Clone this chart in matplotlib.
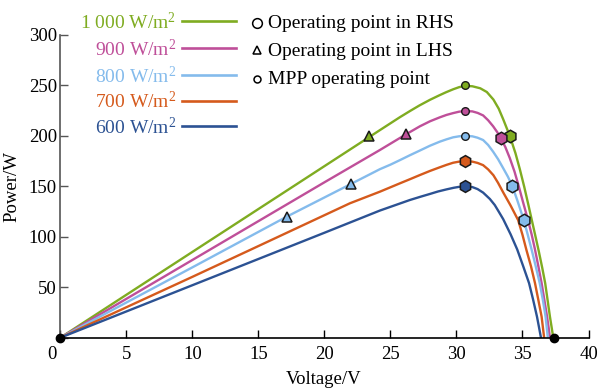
import matplotlib
matplotlib.use("Agg")
import matplotlib.pyplot as plt
from matplotlib.lines import Line2D
import matplotlib.transforms as mtransforms

plt.rcParams['font.family'] = ['Liberation Serif', 'DejaVu Serif']
plt.rcParams['mathtext.fontset'] = 'custom'
plt.rcParams['mathtext.rm'] = 'Liberation Serif'
plt.rcParams['mathtext.it'] = 'Liberation Serif:italic'

# P-V curves, one pair of lists per irradiance
labels = ['1 000 W/m$^2$', '900 W/m$^2$', '800 W/m$^2$', '700 W/m$^2$', '600 W/m$^2$']
colors = ['#7fac21', '#bf4f99', '#84bbec', '#d55a1c', '#2c5293']

v_1000 = [0, 10, 20, 24.2, 25.7, 26.5, 27.2, 28.0, 28.7, 29.2, 29.75, 30.2, 30.6, 31.2, 31.8,
          32.3, 32.8, 33.2, 33.54, 34.04, 34.47, 34.8, 35.13, 35.45, 35.75, 36.0, 36.23, 36.5,
          36.72, 36.9, 37.08, 37.2, 37.33]
p_1000 = [0, 85, 170, 205.7, 218.4, 224.8, 230.2, 235.8, 240.2, 243.2, 246.2, 248.3, 249.5, 249.2, 247.2,
          243.5, 236, 227, 216.5, 200, 182.8, 167, 149.7, 131.5, 114, 99.5, 86, 69,
          54, 37.5, 20.8, 11, 0]

v_900 = [0, 10, 20, 24.2, 26.17, 27.23, 28.0, 28.74, 29.25, 29.75, 30.2, 30.6, 31.2, 31.6, 32.02,
         32.4, 32.78, 33.1, 33.36, 33.7, 34.04, 34.4, 34.72, 35.05, 35.42, 35.7, 35.93, 36.2,
         36.45, 36.65, 36.86, 36.98, 37.08]
p_900 = [0, 77, 154, 186, 201.5, 209.5, 214.5, 218.4, 220.8, 222.6, 224, 224.6, 224.3, 222.8, 220.3,
         215.5, 209.5, 203.5, 197.5, 189, 178, 164.5, 150, 134, 116.6, 102, 88.5, 71,
         54, 38, 21, 10, 0]

v_800 = [0, 10, 17.14, 22.0, 24.2, 25.0, 25.72, 26.5, 27.23, 28.0, 28.74, 29.25, 29.75, 30.2, 30.6,
         31.2, 31.6, 32.02, 32.4, 32.78, 33.15, 33.54, 33.9, 34.22, 34.6, 35.1, 35.4, 35.7,
         36.0, 36.31, 36.55, 36.75, 36.92]
p_800 = [0, 69.7, 119.9, 152.3, 167, 171.5, 176, 181, 185.5, 190.3, 194.3, 196.6, 198.6, 199.6, 200,
         199.6, 198.2, 195.9, 191, 184.3, 177, 168, 159.5, 150.6, 136.5, 116.6, 102, 86.9,
         71, 53.9, 37, 20.8, 0]

v_700 = [0, 10, 14.36, 21.93, 24.2, 25.72, 26.5, 27.23, 28.0, 28.74, 29.25, 29.75, 30.2, 30.6,
         31.2, 31.6, 32.02, 32.4, 32.8, 33.15, 33.54, 34.1, 34.67, 35.0, 35.3, 35.65, 35.95,
         36.2, 36.45, 36.64]
p_700 = [0, 60.3, 86.9, 133.2, 144.7, 153, 157.2, 161.2, 165.3, 168.9, 171.3, 173.4, 174.5, 175,
         174.5, 173.2, 171, 166.8, 161, 153.5, 144, 131, 116.6, 102, 86.9, 70.5, 54,
         37.5, 20.8, 0]

v_600 = [0, 10, 20, 24.2, 26.48, 27.3, 28.0, 28.6, 29.25, 29.8, 30.2, 30.6, 31.2, 31.6, 32.02,
         32.53, 32.9, 33.2, 33.54, 34.1, 34.6, 35.05, 35.5, 35.8, 36.1, 36.25, 36.4]
p_600 = [0, 52, 104, 126, 136.5, 139.8, 142.5, 144.9, 147, 148.6, 149.5, 150, 149.3, 147.3, 143.8,
         137.5, 131.5, 125, 117.5, 102.5, 87.5, 71, 54, 38, 20.8, 10.5, 0]

volts = [v_1000, v_900, v_800, v_700, v_600]
powers = [p_1000, p_900, p_800, p_700, p_600]

# operating points (voltage, power, colour index)
rhs_v = [34.04, 33.36, 34.22, 35.1]
rhs_p = [200, 198.2, 150.5, 116.3]
rhs_c = [0, 1, 2, 2]

lhs_v = [23.37, 26.17, 22.0, 17.14]
lhs_p = [200.2, 201.6, 152.3, 119.9]
lhs_c = [0, 1, 2, 2]

mpp_v = [30.63, 30.63, 30.63, 30.63, 30.63]
mpp_p = [250, 225, 200, 175, 150]
mpp_big = [False, False, False, True, True]

ends_v = [0, 37.35]
ends_p = [0, 0]

W, H = 598, 391
fig = plt.figure(figsize=(W / 100, H / 100), dpi=100)
ax = fig.add_axes([60.3 / W, 1 - 337.7 / H, (588.5 - 60.3) / W, (337.7 - 35) / H])

for v, p, c in zip(volts, powers, colors):
    ax.plot(v, p, color=c, lw=1.7, solid_joinstyle='round', zorder=2)

for v, p, ci in zip(lhs_v, lhs_p, lhs_c):
    ax.plot(v, p, marker='^', ms=7.5, mfc=colors[ci], mec='#1a1a1a', mew=1.1, zorder=4)
for v, p, big, c in zip(mpp_v, mpp_p, mpp_big, colors):
    if big:
        ax.plot(v, p, marker='h', ms=8.5, mfc=c, mec='#1a1a1a', mew=1.1, zorder=4)
    else:
        ax.plot(v, p, marker='o', ms=5.5, mfc=c, mec='#1a1a1a', mew=1.0, zorder=4)
for v, p, ci in zip(rhs_v, rhs_p, rhs_c):
    ax.plot(v, p, marker='h', ms=9, mfc=colors[ci], mec='#1a1a1a', mew=1.1, zorder=5)
ax.plot(ends_v, ends_p, 'o', color='black', ms=6, clip_on=False, zorder=6)

ax.set_xlim(0, 40)
ax.set_ylim(0, 300)
ax.set_xticks(range(0, 41, 5))
ax.set_yticks(range(0, 301, 50))
ax.set_yticklabels([''] + [str(t) for t in range(50, 301, 50)])
for s in ['top', 'right']:
    ax.spines[s].set_visible(False)
ax.spines['left'].set_color('#555555')
ax.spines['bottom'].set_color('black')
ax.spines['left'].set_linewidth(1.2)
ax.spines['bottom'].set_linewidth(1.2)
ax.tick_params(axis='x', direction='in', length=5.5, width=1, pad=6, labelsize=13.5)
ax.tick_params(axis='y', direction='in', length=5.5, width=1, pad=2.5, labelsize=13.5,
               color='#555555')
# shared origin label sits a little left of the corner
lbl0 = ax.get_xticklabels()[0]
lbl0.set_transform(lbl0.get_transform() + mtransforms.ScaledTranslation(-8 / 100, 0, fig.dpi_scale_trans))

fig.text(324 / W, 1 - 380 / H, 'Voltage/V', ha='center', va='center', fontsize=13.5)
fig.text(12 / W, 1 - 186 / H, 'Power/W', ha='center', va='center', rotation=90, fontsize=13.5)

# legend, drawn by hand: coloured labels then line samples
def fx(px):
    return px / W

def fy(py):
    return 1 - py / H

rows = [21, 48.3, 75, 100.7, 126]
for lab, c, y in zip(labels, colors, rows):
    fig.text(fx(176), fy(y + 1), lab, color=c, ha='right', va='center', fontsize=14)
    fig.add_artist(Line2D([fx(182), fx(236)], [fy(y), fy(y)], color=c, lw=1.9,
                          transform=fig.transFigure))

mk_rows = [22.7, 50, 79]
mk_texts = ['Operating point in RHS', 'Operating point in LHS', 'MPP operating point']
mk_style = [('o', 7), ('^', 6), ('o', 5)]
for y, t, (m, s) in zip(mk_rows, mk_texts, mk_style):
    fig.add_artist(Line2D([fx(257)], [fy(y)], marker=m, ms=s, mfc='white', mec='black',
                          mew=1.1, ls='none', transform=fig.transFigure))
    fig.text(fx(268), fy(y + 1), t, ha='left', va='center', fontsize=14)

fig.savefig('out.png', dpi=100)
